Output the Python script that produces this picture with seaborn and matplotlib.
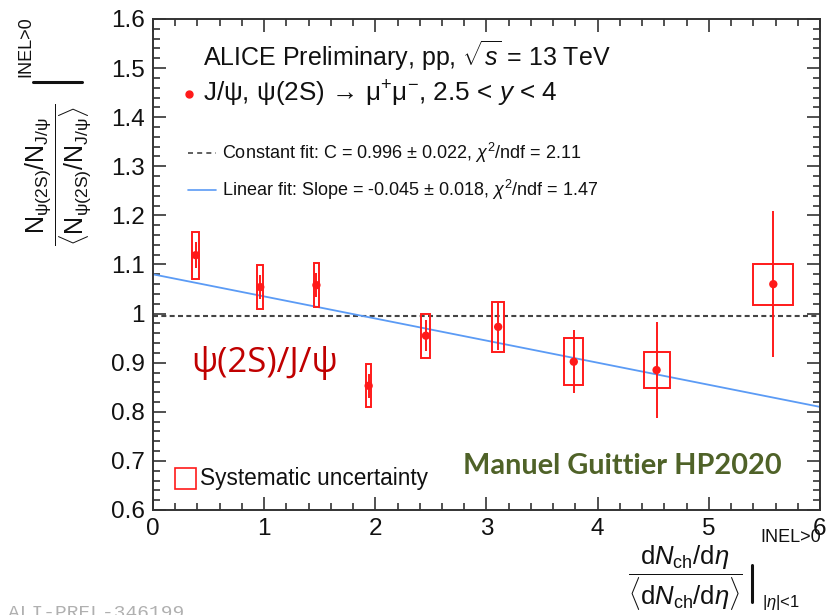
import numpy as np
import pandas as pd
import matplotlib
matplotlib.use("Agg")
import matplotlib.pyplot as plt
from matplotlib.patches import Rectangle
from matplotlib.lines import Line2D
from matplotlib.ticker import MultipleLocator
import seaborn as sns

# Relative multiplicity bins and the psi(2S)/J/psi double ratio
dndeta = [0.385, 0.965, 1.47, 1.94, 2.455, 3.105, 3.785, 4.53, 5.58]
ratio = [1.119, 1.054, 1.058, 0.853, 0.955, 0.973, 0.902, 0.885, 1.060]
stat_err = [0.027, 0.025, 0.025, 0.025, 0.032, 0.048, 0.064, 0.097, 0.149]
syst_err = [0.048, 0.045, 0.045, 0.044, 0.045, 0.051, 0.048, 0.037, 0.042]
dndeta_syst = [0.03, 0.025, 0.025, 0.025, 0.04, 0.055, 0.085, 0.117, 0.18]
ytick_labels = ["0.6", "0.7", "0.8", "0.9", "1", "1.1", "1.2", "1.3", "1.4", "1.5", "1.6"]

# Fit results
const_fit = 0.996
lin_intercept = 1.080
lin_slope = -0.045

df = pd.DataFrame({"x": dndeta, "y": ratio, "stat": stat_err,
                   "syst": syst_err, "xsyst": dndeta_syst})

sns.set_theme(style="ticks")
plt.rcParams["font.family"] = ["Liberation Sans", "DejaVu Sans"]
plt.rcParams["mathtext.fontset"] = "custom"
plt.rcParams["mathtext.rm"] = "Liberation Sans"
plt.rcParams["mathtext.it"] = "Liberation Sans:italic"
plt.rcParams["mathtext.bf"] = "Liberation Sans:bold"
plt.rcParams["mathtext.sf"] = "Liberation Sans"

W, H = 829, 615
fig = plt.figure(figsize=(W / 100, H / 100), dpi=100)
ax = fig.add_axes([153 / W, 1 - 510 / H, 667 / W, 491 / H])

red = "#ff1a1a"
blue = "#5b9bf5"
dash = (0, (2.4, 1.6))

# fit lines over the full axis range
xr = np.array([0.0, 6.0])
fits = pd.DataFrame({"x": np.concatenate([xr, xr]),
                     "y": np.concatenate([np.full(2, const_fit), lin_intercept + lin_slope * xr]),
                     "fit": ["const"] * 2 + ["linear"] * 2})
c = fits[fits.fit == "const"]
ax.plot(c.x, c.y, color="#444444", lw=1.5, ls=dash, zorder=2)
sns.lineplot(data=fits[fits.fit == "linear"], x="x", y="y", color=blue,
             lw=1.3, ax=ax, zorder=2)

# systematic boxes
for _, r in df.iterrows():
    ax.add_patch(Rectangle((r.x - r.xsyst, r.y - r.syst), 2 * r.xsyst, 2 * r.syst,
                           fill=False, ec=red, lw=1.4, zorder=3))
# statistical bars
ax.errorbar(df.x, df.y, yerr=df.stat, fmt="none", ecolor=red, elinewidth=1.4, capsize=0, zorder=4)
sns.scatterplot(data=df, x="x", y="y", color=red, s=36, edgecolor="none", ax=ax, zorder=5)

ax.set_xlim(0, 6)
ax.set_ylim(0.6, 1.6)
ax.xaxis.set_major_locator(MultipleLocator(1))
ax.xaxis.set_minor_locator(MultipleLocator(0.2))
ax.yaxis.set_minor_locator(MultipleLocator(0.02))
ax.set_yticks(np.linspace(0.6, 1.6, len(ytick_labels)))
ax.set_yticklabels(ytick_labels)
ax.tick_params(which="both", direction="in", top=True, right=True, color="#333333",
               labelsize=17.5, width=1.2, labelcolor="#111111")
ax.tick_params(which="major", length=9.5, pad=6)
ax.tick_params(which="minor", length=5)
for s in ax.spines.values():
    s.set_linewidth(1.4)
    s.set_color("#333333")
ax.set_xlabel("")
ax.set_ylabel("")

# header and legend
ax.text(0.075, 0.925, r"ALICE Preliminary, pp, $\sqrt{s}$ = 13 TeV", transform=ax.transAxes,
        fontsize=18, va="center", ha="left", color="#111111")
ax.plot([0.054], [0.848], transform=ax.transAxes, marker="o", color=red, ms=5, ls="none")
ax.text(0.075, 0.848, r"J/ψ, ψ(2S) → μ$^{+}$μ$^{-}$, 2.5 < $y$ < 4",
        transform=ax.transAxes, fontsize=18.8, va="center", ha="left", color="#111111")
ax.plot([0.052, 0.095], [0.727, 0.727], transform=ax.transAxes, color="#444444", lw=1.2,
        ls=(0, (3, 2.5)))
ax.text(0.104, 0.727, r"Constant fit: C = 0.996 $\pm$ 0.022, $\chi^{2}$/ndf = 2.11",
        transform=ax.transAxes, fontsize=13, va="center", ha="left", color="#111111")
ax.plot([0.052, 0.095], [0.652, 0.652], transform=ax.transAxes, color=blue, lw=1.2)
ax.text(0.104, 0.652, r"Linear fit: Slope = -0.045 $\pm$ 0.018, $\chi^{2}$/ndf = 1.47",
        transform=ax.transAxes, fontsize=13, va="center", ha="left", color="#111111")

ax.add_patch(Rectangle((0.033, 0.043), 0.031, 0.043, transform=ax.transAxes,
                       fill=False, ec=red, lw=1.2))
ax.text(0.071, 0.065, "Systematic uncertainty", transform=ax.transAxes, fontsize=16.3,
        va="center", ha="left", color="#111111")

ax.text(0.057, 0.300, "ψ(2S)/J/ψ", transform=ax.transAxes,
        fontsize=25, family=["Open Sans", "DejaVu Sans"],
        color="#c00000", va="center", ha="left")
ax.text(0.465, 0.09, "Manuel Guittier HP2020", transform=ax.transAxes, fontsize=20.8,
        family=["Lato", "DejaVu Sans"], fontweight="bold", color="#4f6228",
        va="center", ha="left")

# y-axis title: fraction, evaluation bar and event class
fig.text(58 / W, 1 - 175 / H,
         r"$\dfrac{\mathrm{N}_{\mathrm{\psi(2S)}}/\mathrm{N}_{\mathrm{J/\psi}}}{\langle \mathrm{N}_{\mathrm{\psi(2S)}}/\mathrm{N}_{\mathrm{J/\psi}}\rangle}$",
         rotation=90, fontsize=18, ha="center", va="center", color="#111111")
fig.add_artist(Line2D([33 / W, 82 / W], [1 - 82 / H, 1 - 82 / H], color="#111111", lw=2.2))
fig.text(26 / W, 1 - 47 / H, "INEL>0", rotation=90, fontsize=13,
         ha="center", va="center", color="#111111")

# x-axis title
fig.text(685 / W, 1 - 578 / H,
         r"$\dfrac{\mathrm{d}N_{\mathrm{ch}}/\mathrm{d}\eta}{\langle \mathrm{d}N_{\mathrm{ch}}/\mathrm{d}\eta\rangle}$",
         fontsize=18.5, ha="center", va="center", color="#111111")
fig.add_artist(Line2D([752 / W, 752 / W], [1 - 565 / H, 1 - 602 / H], color="#111111", lw=2.2))
fig.text(760 / W, 1 - 538 / H, "INEL>0", fontsize=13, ha="left", va="center", color="#111111")
fig.text(762 / W, 1 - 603 / H, r"$|\eta|$<1", fontsize=12, ha="left", va="center",
         color="#111111")

fig.text(8 / W, 1 - 605 / H, "ALI-PREL-346199", fontsize=14,
         family=["Liberation Mono", "DejaVu Sans Mono"], color="#b0b0b0",
         ha="left", va="top")

fig.savefig("out.png", dpi=100, facecolor="white")
